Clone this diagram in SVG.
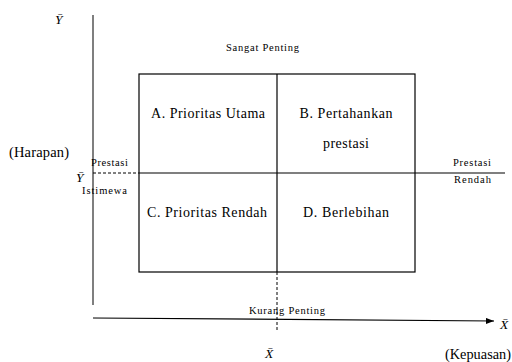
<svg xmlns="http://www.w3.org/2000/svg" width="512" height="362" viewBox="0 0 512 362">
<defs>
<style>
text{font-family:'Liberation Serif','Times New Roman',serif;fill:#000}
.q{font-size:14px;text-anchor:middle}
.s{font-size:10.5px}
.v{font-size:13.5px;font-style:italic}
.ln{stroke:#000;stroke-width:1.2;fill:none}
.ax{stroke:#555;stroke-width:1.5;fill:none}
.d{stroke:#000;stroke-width:1;stroke-dasharray:3,2;fill:none}
</style>
<marker id="ah" markerWidth="8" markerHeight="6" refX="8" refY="3" orient="auto" markerUnits="userSpaceOnUse">
<path d="M0,0 L8,3 L0,6 Z" fill="#000"/>
</marker>
</defs>
<rect width="512" height="362" fill="#fff"/>
<g id="connectors">
<line class="ax" x1="93" y1="15" x2="93" y2="305"/>
<line class="ln" x1="93" y1="318" x2="494" y2="321" marker-end="url(#ah)"/>
<line class="d" x1="93" y1="173" x2="139" y2="173"/>
<line class="ln" x1="139" y1="173" x2="505" y2="173"/>
<line class="d" x1="277" y1="272" x2="277" y2="330"/>
</g>
<g id="matrix">
<rect class="ln" x="139" y="74" width="276" height="198"/>
<line class="ln" x1="277" y1="74" x2="277" y2="272"/>
</g>
<g id="quadA"><text class="q" x="208" y="118" textLength="114" lengthAdjust="spacing">A. Prioritas Utama</text></g>
<g id="quadB"><text class="q" x="346" y="118" textLength="93" lengthAdjust="spacing">B. Pertahankan</text><text class="q" x="346" y="148" textLength="46" lengthAdjust="spacing">prestasi</text></g>
<g id="quadC"><text class="q" x="207" y="217" textLength="120" lengthAdjust="spacing">C. Prioritas Rendah</text></g>
<g id="quadD"><text class="q" x="346" y="217" textLength="86" lengthAdjust="spacing">D. Berlebihan</text></g>
<g id="labels">
<text class="v" x="55" y="24">Ȳ</text>
<text x="9" y="157" font-size="14.5" textLength="60" lengthAdjust="spacing">(Harapan)</text>
<text class="s" x="91" y="166" textLength="37" lengthAdjust="spacing">Prestasi</text>
<text class="v" x="76" y="182">Ȳ</text>
<text class="s" x="82" y="194" textLength="45" lengthAdjust="spacing">Istimewa</text>
<text class="s" x="226" y="51" textLength="73" lengthAdjust="spacing">Sangat Penting</text>
<text class="s" x="453" y="166" textLength="38" lengthAdjust="spacing">Prestasi</text>
<text class="s" x="454" y="183" textLength="37" lengthAdjust="spacing">Rendah</text>
<text class="s" x="249" y="314" textLength="76" lengthAdjust="spacing">Kurang Penting</text>
<text class="v" x="265" y="358">X̄</text>
<text x="445" y="359" font-size="14.5" textLength="66" lengthAdjust="spacingAndGlyphs">(Kepuasan)</text>
<text class="v" x="500" y="329">X̄</text>
</g>
</svg>
